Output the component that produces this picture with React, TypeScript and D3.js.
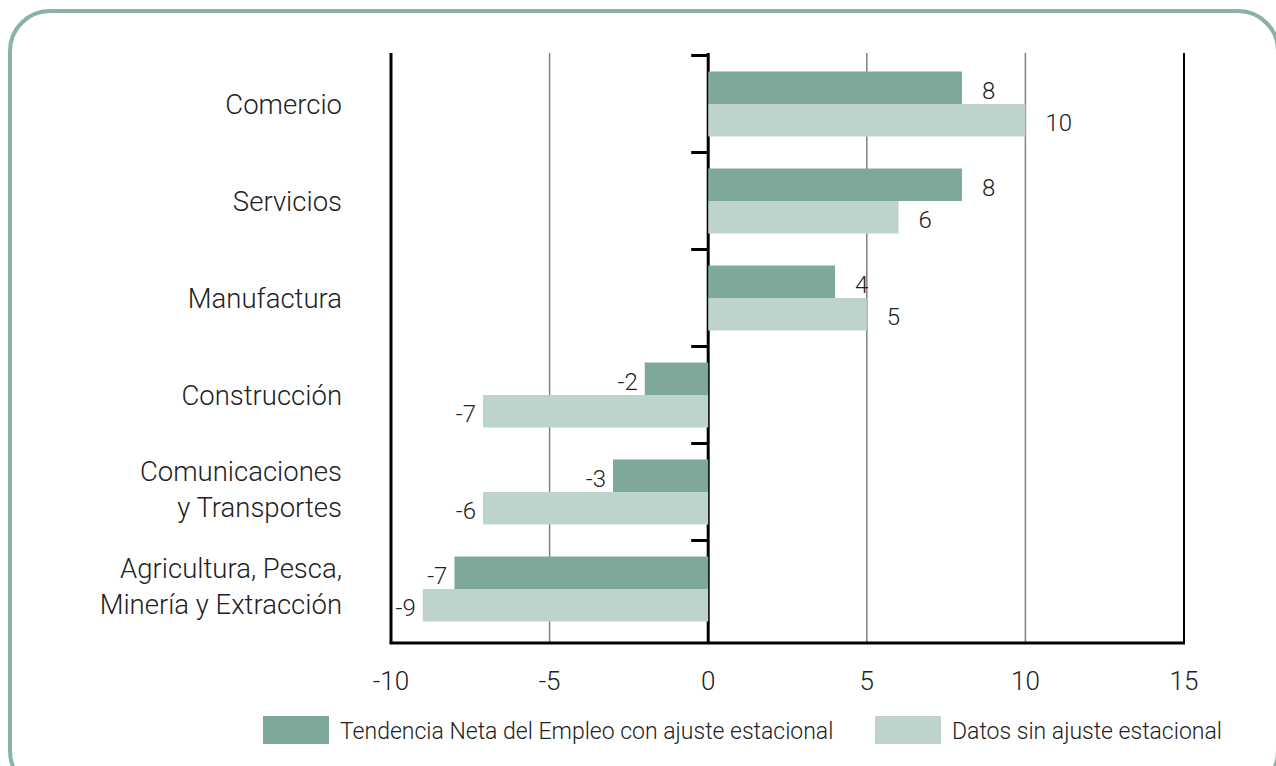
import React, { useEffect, useRef } from "react";
import * as d3 from "d3";

// categories (top to bottom)
const sectors = [
    "Comercio",
    "Servicios",
    "Manufactura",
    "Construcción",
    "Comunicaciones\ny Transportes",
    "Agricultura, Pesca,\nMinería y Extracción",
];

const seriesNames = [
    "Tendencia Neta del Empleo con ajuste estacional",
    "Datos sin ajuste estacional",
];

// bar lengths as drawn
const ajustado = [8, 8, 4, -2, -3, -8];
const sinAjuste = [10, 6, 5, -7.1, -7.1, -9];

// the printed labels (not always equal to the bar length)
const ajustadoLabels = ["8", "8", "4", "-2", "-3", "-7"];
const sinAjusteLabels = ["10", "6", "5", "-7", "-6", "-9"];

const xTicks = [-10, -5, 0, 5, 10, 15];

const colors = ["#7ea89b", "#bfd3cd"];
const FONT = "Roboto, 'Liberation Sans', sans-serif";

const W = 1276;
const H = 766;

const App: React.FC = () => {
    const ref = useRef<SVGSVGElement>(null);

    useEffect(() => {
        const svg = d3.select(ref.current);
        svg.selectAll("*").remove();

        // rounded frame
        svg.append("rect")
            .attr("x", 10)
            .attr("y", 11)
            .attr("width", 1268)
            .attr("height", 780)
            .attr("rx", 40)
            .attr("fill", "none")
            .attr("stroke", "#87b59f")
            .attr("stroke-width", 4);

        const x = d3.scaleLinear().domain([-10, 15]).range([391, 1184]);
        const y0 = d3
            .scaleBand<string>()
            .domain(sectors)
            .range([55.5, 637.5])
            .paddingInner(0.33)
            .paddingOuter(0.165);
        const y1 = d3
            .scaleBand<number>()
            .domain([0, 1])
            .range([0, y0.bandwidth()]);

        const top = 53;
        const bottom = 643;

        // vertical grid
        svg.append("g")
            .selectAll("line")
            .data(xTicks)
            .enter()
            .append("line")
            .attr("x1", (d) => x(d))
            .attr("x2", (d) => x(d))
            .attr("y1", top)
            .attr("y2", bottom)
            .attr("stroke", (d) => (d === -10 || d === 0 || d === 15 ? "#000" : "#808080"))
            .attr("stroke-width", (d) => (d === -10 || d === 0 ? 3 : d === 15 ? 2 : 1.5));

        // bars
        const rows = sectors.map((s, i) => ({
            s,
            vals: [ajustado[i], sinAjuste[i]],
            labels: [ajustadoLabels[i], sinAjusteLabels[i]],
        }));

        const groups = svg
            .append("g")
            .selectAll("g")
            .data(rows)
            .enter()
            .append("g")
            .attr("transform", (d) => `translate(0,${y0(d.s)})`);

        groups
            .selectAll("rect")
            .data((d) => d.vals.map((v, k) => ({ v, k })))
            .enter()
            .append("rect")
            .attr("x", (d) => x(Math.min(0, d.v)))
            .attr("y", (d) => y1(d.k)!)
            .attr("width", (d) => Math.abs(x(d.v) - x(0)))
            .attr("height", y1.bandwidth())
            .attr("fill", (d) => colors[d.k]);

        groups
            .selectAll("text")
            .data((d) => d.vals.map((v, k) => ({ v, k, label: d.labels[k] })))
            .enter()
            .append("text")
            .attr("x", (d) => (d.v >= 0 ? x(d.v) + 20 : x(d.v) - 7))
            .attr("y", (d) => y1(d.k)! + y1.bandwidth() / 2 + 3)
            .attr("dominant-baseline", "central")
            .attr("text-anchor", (d) => (d.v >= 0 ? "start" : "end"))
            .attr("font-family", FONT)
            .attr("font-weight", 300)
            .attr("font-size", 24)
            .attr("fill", "#222")
            .text((d) => d.label);

        // zero axis ticks
        const step = y0.step();
        const tickYs = d3.range(6).map((i) => 55.5 + i * step);
        svg.append("g")
            .selectAll("line")
            .data(tickYs)
            .enter()
            .append("line")
            .attr("x1", x(0) - 17)
            .attr("x2", x(0))
            .attr("y1", (d) => d)
            .attr("y2", (d) => d)
            .attr("stroke", "#000")
            .attr("stroke-width", 3);

        // bottom axis
        svg.append("line")
            .attr("x1", x(-10) - 1.5)
            .attr("x2", x(15) + 1)
            .attr("y1", bottom)
            .attr("y2", bottom)
            .attr("stroke", "#000")
            .attr("stroke-width", 3);

        svg.append("g")
            .selectAll("text")
            .data(xTicks)
            .enter()
            .append("text")
            .attr("x", (d) => x(d))
            .attr("y", 681)
            .attr("dominant-baseline", "central")
            .attr("text-anchor", "middle")
            .attr("font-family", FONT)
            .attr("font-weight", 300)
            .attr("font-size", 26)
            .attr("fill", "#222")
            .text((d) => String(d));

        // category labels
        const cat = svg
            .append("g")
            .selectAll("text")
            .data(sectors)
            .enter()
            .append("text")
            .attr("text-anchor", "end")
            .attr("font-family", FONT)
            .attr("font-weight", 300)
            .attr("font-size", 27.5)
            .attr("fill", "#222");
        cat.each(function (d) {
            const lines = d.split("\n");
            const cy = y0(d)! + y0.bandwidth() / 2;
            const lh = 36;
            lines.forEach((ln, j) => {
                d3.select(this)
                    .append("tspan")
                    .attr("x", 342)
                    .attr("y", cy + (j - (lines.length - 1) / 2) * lh - (lines.length > 1 ? 3 : 0))
                    .attr("dominant-baseline", "central")
                    .text(ln);
            });
        });

        // legend
        const legendX = [263, 875];
        const lg = svg
            .append("g")
            .selectAll("g")
            .data(seriesNames)
            .enter()
            .append("g")
            .attr("transform", (d, i) => `translate(${legendX[i]},716)`);
        lg.append("rect")
            .attr("width", 66)
            .attr("height", 28)
            .attr("fill", (d, i) => colors[i]);
        lg.append("text")
            .attr("x", 77)
            .attr("y", 15)
            .attr("dominant-baseline", "central")
            .attr("font-family", FONT)
            .attr("font-weight", 300)
            .attr("font-size", 23)
            .attr("fill", "#222")
            .text((d) => d);
    }, []);

    return (
        <div style={{ position: "absolute", left: 0, top: 0, width: W, height: H, background: "#fff" }}>
            <svg ref={ref} width={W} height={H}></svg>
        </div>
    );
};

export default App;
